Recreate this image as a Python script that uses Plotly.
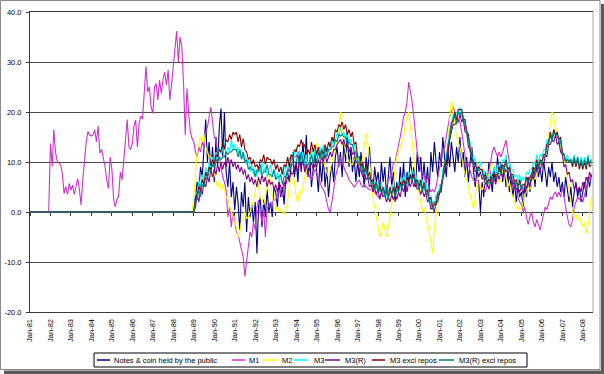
import pandas as pd
import plotly.graph_objects as go

# ---------------- data (annual growth, %) ----------------
start_month = "1981-01-01"
series_names = ["Notes & coin held by the public", "M1", "M2", "M3", "M3(R)",
                "M3 excl repos", "M3(R) excl repos"]
series_colors = ["#000080", "#CC33CC", "#FFFF00", "#00FFFF", "#800080", "#800000", "#008080"]

# months Jan-81 .. Dec-88 with no data plotted as zero (M1 starts Jan-82)
zeros_81_88 = [0.0] * 96
zeros_81 = [0.0] * 12

m1_82_88 = [
    13.7, 9.1, 16.5, 12.0, 10.2, 9.7, 9.4, 7.7, 3.7, 5.1, 3.5, 5.7,
    4.4, 5.4, 3.5, 5.0, 6.7, 4.5, 1.4, 6.5, 11.0, 14.0, 16.1, 15.4,
    15.2, 15.4, 16.4, 14.0, 17.2, 11.8, 12.5, 10.6, 9.1, 6.4, 4.7, 11.0,
    8.5, 2.5, 1.0, 2.5, 3.2, 8.0, 6.4, 10.4, 14.4, 18.5, 13.0, 12.5,
    13.7, 17.3, 18.4, 13.0, 17.7, 19.2, 18.6, 24.4, 29.1, 24.0, 25.0, 21.0,
    19.7, 25.0, 25.7, 22.4, 26.4, 23.7, 26.5, 28.0, 25.4, 28.4, 22.4, 25.5,
    29.7, 33.0, 36.2, 30.0, 35.0, 33.0, 26.0, 15.4, 24.7, 19.8, 16.0, 14.7,
]

notes_89_08 = [
    0, 3, 6, 4.4, 9, 7, 12, 18.5, 10, 14, 8, 13,
    6, 15, 9, 17, 20.7, 11, 20, 8, 5, 10, 3, 6,
    0.4, 5, 2, -3.6, 4, 1, 6, -4, 3, -1, 1.5, -2,
    2, -8.3, 1, 3, -3, 2.5, -1, 4.5, 0, 2, -1, 5,
    4, 1, 6, 3, 5, 1.5, 7, 8, 6, 9, 12, 7,
    10, 6, 12, 8, 14, 9, 15.4, 7, 11, 5, 9, 12,
    8, 4, 10, 6, 11, 5, 9, 3, 7, 10, 6, 11,
    13, 9, 12, 7, 14, 10, 16, 9, 13, 8, 11, 6,
    10, 7, 12, 9, 5, 11, 8, 13, 7, 4, 9, 6,
    8, 4, 10, 6, 9, 3, 7, 11, 5, 8, 2, 6,
    4, 9, 5, 10, 3, 8, 6, 11, 7, 9, 5, 12,
    8, 11, 6, 10, 5, 9, 4, 12, 8, 14, 10, 7,
    12, 9, 15, 10, 7, 12, 9, 14, 11, 8, 13, 10,
    15, 9, 12, 7, 11, 6, 10, 13, 8, 5, 9, 6,
    0, 6, 3, 8, 5, 10, 7, 4, 9, 6, 11, 8,
    10, 6, 9, 5, 8, 4, 7, 3, 6, 2, 5, 3,
    4, 1, 5, 3, 7, 4, 6, 9, 5, 10, 7, 9,
    6, 10, 8, 5, 9, 7, 10, 6, 8, 5, 7, 4,
    6, 3, 7, 4, 2, 5, 1, 4, 6, 3, 5, 2,
    4, 6, 3, 7, 5, 7.5,
]

m1_89_08 = [
    14, 12, 11, 13, 12, 14, 13, 16, 17, 19, 21, 18,
    15, 14.4, 12, 11, 9, 7, 6, 4.4, -1, 1, -3, 0,
    -2, -4, -4.5, -6, -7.6, -9, -12.9, -10, -7, -4, -5, -2,
    -3.6, 1, 2.4, 0, -2, 0.4, -5, 1, 1, 2, 1.5, 2.4,
    2.4, 3.5, 4.4, 3.5, 3, 5, 7, 8, 9, 10, 11.7, 11,
    11, 12, 11.7, 10, 11.7, 9, 7.7, 8, 7, 6.4, 7.5, 8.4,
    8, 7, 6.4, 5, 4.5, 3.7, 2, 0.5, 0, 2, 4.4, 7,
    8.4, 10, 11, 10, 9, 8, 7.5, 6.4, 6, 5.5, 5, 5.5,
    6, 6.4, 5.5, 5, 5.5, 5, 4.8, 4.4, 4.4, 4.4, 4, 3.5,
    3, 3.2, 3.5, 4, 4.4, 5, 6.4, 7, 8, 9.7, 10, 12,
    13.5, 15, 17, 19, 20, 22, 26, 24, 22, 19, 15, 12,
    10, 8, 7, 7.5, 6, 7, 5, 4, 4.5, 4, 5, 7,
    9, 11, 12, 13, 15, 17, 19, 20, 21, 20, 19, 18.5,
    18, 16, 14, 12, 9, 9.5, 8, 7, 6.4, 6, 6.4, 5.5,
    5, 4.4, 5, 4, 6, 8, 10, 12, 13, 12, 11, 12,
    11, 12, 13, 14.4, 12, 10, 7, 5, 5.5, 4, 3, 2,
    1.5, 0, 1, -1, -2.5, -1, 0, -2, -3, -1.5, -2.5, -3.6,
    -2, 0, 1, 0.5, 2, 3, 2.5, 3.5, 4, 3, 4, 3,
    5, 3, 0.4, -1, -2.5, -3, -1.5, 1, 2, 3, 2.5, 3,
    2, 3.5, 5, 6, 7, 6.5,
]

m2_89_08 = [
    3, 8, 12, 13.7, 15, 14, 15.7, 13, 12, 11, 11, 10,
    7.7, 6.4, 5, 6, 4.4, 5.5, 4, 3, 2.4, 1, 0, -1,
    -2.3, -3, -5, -4, -2, -1, 0, -1.3, -1, 0, 1, 2.4,
    4, 6.4, 5, 3, 2, 1.5, 3, 5, 7.7, 6, 3, 1,
    0.5, 1, 0, 0.7, 0, -0.5, 0.4, 2, 5, 7, 7.5, 6,
    3, 2, 4.4, 3.5, 5, 7, 8, 9, 10, 11, 12, 12.5,
    13.7, 13, 12, 11.5, 10, 9, 8, 7, 8.5, 10, 12, 13.5,
    14.4, 17, 20, 16, 14, 12, 11, 10, 9.7, 9.5, 10.5, 11,
    10, 9, 8.5, 11, 13, 15.7, 14, 9.7, 6, 3, 1, -1,
    -3, -4.9, -4, -2, -3.5, -5, -3, -1, 1, 5, 9, 11,
    12, 13, 14, 15, 17.7, 19, 20, 17, 14.4, 11, 7, 5,
    4, 2, 0, 1, -1, -2.3, -4, -6, -8.3, -3, 0, 2,
    4, 6, 7.7, 9, 10, 14, 18, 22.4, 20, 17, 15, 14,
    13, 11, 9, 7.5, 6.4, 5, 3.5, 2, 0.7, 3, 6, 7,
    5, 4.4, 5.5, 6.4, 6, 7.7, 9, 9.7, 8.5, 8, 7, 6,
    6, 8, 9, 7, 5, 6, 4, 3, 2, 1, 0.5, 1,
    0.5, 2, 3.5, 4, 5, 4.5, 6, 7, 6.5, 8, 9, 9.5,
    10, 11, 11, 13, 15, 17.5, 20, 19, 17, 16, 14, 13,
    12, 11, 9, 6, 4.4, 2, 0, -1, -0.5, -1.6, -1, -2,
    -3, -2, -4.3, -3, 0, 3,
]

m3_89_08 = [
    0, 4, 3, 6.5, 5, 7.5, 6, 9, 7.5, 10, 8.5, 11,
    9.5, 12, 10.5, 13, 11.5, 12.5, 14, 11.5, 13, 12, 14.5, 12.5,
    13.5, 12, 13, 11, 12.5, 10.5, 11.5, 9.5, 10.5, 8, 9.5, 7.5,
    8.5, 7, 9, 7.5, 10, 8, 9, 7, 8.5, 9.5, 7.5, 8.5,
    6.5, 8, 6, 7.5, 9, 7, 9.5, 8.5, 11, 9.5, 12, 11,
    13, 11, 12.5, 10, 12, 9.5, 11.5, 9, 11, 12.5, 10, 12.5,
    11, 12.5, 13, 11, 13.5, 11.5, 13, 12, 14, 13, 15, 14,
    16, 15, 17, 15.5, 16, 14.5, 15.5, 14, 14.5, 13, 13.5, 11.5,
    11.5, 9.5, 10, 8.5, 8.5, 7.5, 8, 6.5, 6.5, 5.5, 6, 4.5,
    5.5, 4, 6, 3.5, 5, 3, 4.5, 3.5, 5.5, 4, 5, 4,
    6, 4.5, 7, 5.5, 7.5, 6, 8, 6.5, 8.5, 7, 7.5, 5.5,
    6.5, 5, 6.5, 4.5, 6, 3.5, 4, 2, 2, 1.5, 3.5, 3,
    5.5, 5, 8.5, 9.5, 11.5, 12.5, 16.5, 17, 19.5, 19, 20, 19.5,
    21, 19, 19.5, 17, 17, 14.5, 14, 11.5, 11.5, 9.5, 10, 8.5,
    10, 8, 8.5, 7, 7.5, 6.5, 7.5, 7.5, 9, 7.5, 9.5, 9,
    9.5, 10.5, 10, 11.5, 9.5, 10, 8.5, 8.5, 7, 7.5, 6, 7.5,
    6, 7, 6.5, 8, 7.5, 8.5, 8.5, 10, 9.5, 11.5, 10, 11.5,
    11, 12.5, 12.5, 14.5, 14, 16, 14.5, 16.5, 15, 15.5, 13.5, 14,
    11.5, 11.5, 10, 11.5, 10, 10.5, 10, 11.5, 9.5, 11, 9.5, 11,
    9.5, 11, 9.5, 11.5, 10, 10.5,
]

m3r_89_08 = [
    0, 1, 3.5, 2, 4.5, 3.5, 6, 5, 7, 6, 8.5, 7,
    8.5, 7.5, 9.5, 8, 10, 8.5, 10, 9, 11, 9.5, 10.5, 9,
    10, 8.5, 9.5, 8, 9, 7.5, 8.5, 6.5, 7.5, 6, 7, 5.5,
    6.5, 5, 7, 5.5, 7.5, 6, 7, 5, 6.5, 5.5, 6, 4.5,
    5.5, 4, 6, 5, 4.5, 6, 5.5, 7, 6.5, 8, 7.5, 9,
    9.5, 8, 10, 9, 10.5, 8, 9.5, 7.5, 9, 10, 8.5, 9.5,
    9, 10.5, 9.5, 11, 10, 11.5, 10, 11, 12, 11, 12.5, 12.5,
    13.5, 14, 14.5, 13.5, 14.5, 13, 13.5, 12, 13, 11.5, 12, 10,
    10, 8, 8.5, 7, 7.5, 6.5, 7, 5, 5.5, 4, 5, 3.5,
    4.5, 2.5, 4, 3, 3.5, 2, 3, 2, 3.5, 2.5, 3.5, 2.5,
    4, 3, 5, 4, 5.5, 4, 6, 5, 6.5, 5, 6, 4.5,
    5, 3.5, 4.5, 3, 4, 2, 2.5, 0.5, 1, 0, 2, 2,
    4, 4, 7, 8, 10.5, 11.5, 14.5, 16, 17.5, 17.5, 18, 18,
    19.5, 18, 18.5, 16, 16, 13, 12.5, 10, 10, 8, 8.5, 7,
    8, 6.5, 7, 5.5, 6, 4.5, 6, 5.5, 7, 5.5, 7.5, 6.5,
    8, 7, 9, 8, 8.5, 6.5, 7.5, 5.5, 6, 4.5, 5, 4,
    5, 3.5, 5.5, 4.5, 6.5, 5, 7.5, 6.5, 8.5, 8, 9, 8,
    10, 9, 11.5, 11, 13.5, 13.5, 14.5, 14, 15.5, 13.5, 14, 12,
    11.5, 9, 9.5, 7.5, 8, 6, 6.5, 4.5, 5.5, 4, 5, 4,
    6, 5, 7, 6, 8, 7,
]

m3x_89_08 = [
    0, 3, 3.5, 5, 4.5, 6.5, 5.5, 8, 7, 9, 8.5, 10.5,
    9.5, 11.5, 11, 12.5, 12, 14, 12.5, 14.5, 14, 15.5, 14.5, 16,
    15.5, 16, 14, 15.5, 13, 14.7, 12.5, 12, 10.5, 11, 9.5, 10.5,
    9, 9.5, 8.5, 10.5, 10, 11.5, 9.5, 11, 10.5, 10.5, 9.5, 10.5,
    8.5, 9.5, 8, 9, 7.5, 9.5, 9, 11, 9, 11.5, 11, 12.5,
    12, 13.5, 13, 14.5, 13, 13.5, 11.5, 12.5, 11.5, 14, 12, 13.5,
    11.5, 13, 11, 12.5, 11.5, 13.5, 12, 14, 13, 15, 14, 16.5,
    16, 17.5, 17, 18, 16.5, 17.5, 15.5, 16.5, 15, 16, 13.5, 14,
    11, 11, 9, 10, 8, 9.5, 7, 8, 6, 6.5, 5, 6,
    4, 5.5, 4, 5, 3.5, 4.5, 3, 5, 3.5, 5, 4, 5.5,
    4.5, 6, 5, 6.5, 5.5, 7, 6, 7.5, 6.5, 7.5, 6, 6.5,
    5, 6.5, 4.5, 6, 4, 4.5, 2.5, 3, 1, 1.5, 1.5, 3.5,
    3.5, 5.5, 6.5, 9.5, 9.5, 12.5, 14.5, 17.5, 18.5, 20, 18, 20.5,
    20.5, 20.5, 18.5, 18.5, 16, 15.5, 12.5, 11.5, 9.5, 10, 8.5, 9,
    8.5, 8.5, 7, 7.5, 6, 6.5, 6, 7.5, 7, 7.5, 7.5, 9,
    8, 9.5, 9, 10.5, 8.5, 9, 7.5, 7.5, 6, 6.5, 5, 6.5,
    5, 5.5, 5.5, 7, 6.5, 7, 7.5, 9, 8.5, 10.5, 9, 10.5,
    10, 11.5, 11.5, 13.5, 14, 16, 14.5, 16.5, 15.5, 16, 14.5, 15,
    12, 11.5, 10, 10.5, 10, 10.5, 9, 10.5, 9, 10.5, 8.5, 10,
    8.5, 10, 8.5, 10.5, 9, 9.5,
]

m3rx_89_08 = [
    0, 2, 2.5, 4.5, 3, 5.5, 5, 7, 6.5, 8.5, 8, 9.5,
    9, 10.5, 10, 11, 10.5, 11, 11, 12, 11.5, 12, 12, 12.5,
    12.5, 12.5, 11, 12.5, 10.5, 12, 10, 10.5, 8.5, 9, 8.5, 8.5,
    7, 8.5, 8, 9.5, 7.5, 8, 8, 9.5, 7.5, 7.5, 7, 8.5,
    6.5, 7, 7, 7.5, 5.5, 7, 7, 8.5, 8, 9.5, 9.5, 10,
    10, 11.5, 9.5, 12, 10, 10, 9.5, 9.5, 10, 11.5, 9.5, 11.5,
    10, 12, 10.5, 12.5, 10.5, 13, 11, 12.5, 12.5, 13, 13, 14.5,
    14, 15.5, 15.2, 15.5, 15, 15, 13.5, 14, 13.5, 13.5, 12, 12,
    10, 10, 8.5, 9, 7.5, 9, 6.5, 7, 5.5, 6, 4.5, 6,
    4, 4.5, 4.5, 5, 3, 4.5, 2.5, 4, 4, 4.5, 3, 4.5,
    4, 5.5, 5, 5.5, 5.5, 6, 5.5, 7, 6.5, 7, 5.5, 6,
    4.5, 6, 4, 5.5, 3.5, 4, 2, 2, 0.5, 2, 2, 4,
    4, 6, 7, 10, 10.5, 13.5, 15, 18, 18, 19.5, 17.5, 20,
    19.5, 20, 18, 18, 15.5, 15, 12, 11.5, 9.5, 9.5, 8, 8.5,
    8, 8, 6.5, 7, 5.5, 6, 5.5, 7, 6.5, 7, 7, 8.5,
    7.5, 9, 8.5, 10, 8, 8.5, 7, 7, 5.5, 6, 4.5, 6,
    4.5, 5, 5, 6.5, 6, 6.5, 7, 8.5, 8, 10, 8.5, 10,
    9.5, 11, 11, 13, 13.5, 15.5, 14, 16, 15.5, 15.5, 14, 14.5,
    11.5, 11.5, 10, 10.5, 10, 10.5, 9.5, 11, 9.5, 11, 9, 10.5,
    9, 10.5, 9, 11, 9.5, 10.5,
]

series_values = [
    zeros_81_88 + notes_89_08,
    zeros_81 + m1_82_88 + m1_89_08,
    zeros_81_88 + m2_89_08,
    zeros_81_88 + m3_89_08,
    zeros_81_88 + m3r_89_08,
    zeros_81_88 + m3x_89_08,
    zeros_81_88 + m3rx_89_08,
]

y_tick_values = [-20, -10, 0, 10, 20, 30, 40]
y_tick_labels = ["-20.0", "-10.0", "0.0", "10.0", "20.0", "30.0", "40.0"]
x_range = ["1981-01-01", "2008-07-01"]

# ---------------- figure ----------------
W, H = 604, 374
ML, MR, MT, MB = 30, 11, 12, 62
PW, PH = W - ML - MR, H - MT - MB
FONT = "Arial, Liberation Sans, sans-serif"


def px(xp):
    return (xp - ML) / PW


def py(yp):
    return (H - MB - yp) / PH


fig = go.Figure()
for name, color, vals in zip(series_names, series_colors, series_values):
    dates = pd.date_range(start_month, periods=len(vals), freq="MS")
    fig.add_trace(go.Scatter(x=dates, y=vals, mode="lines", name=name,
                             line=dict(color=color, width=1.1), showlegend=False))

# dummy trace so the category axis drawn at zero is rendered
fig.add_trace(go.Scatter(x=[], y=[], xaxis="x2", yaxis="y", showlegend=False, hoverinfo="skip"))

fig.update_layout(
    width=W, height=H,
    margin=dict(l=ML, r=MR, t=MT, b=MB, autoexpand=False),
    paper_bgcolor="white", plot_bgcolor="white",
    font=dict(family=FONT, size=7.5, color="black"),
    showlegend=False,
    xaxis=dict(type="date", range=x_range, tick0="1981-01-01", dtick="M12",
               tickformat="%b-%y", tickangle=-90, showgrid=False, ticks="",
               showline=True, mirror=True, linecolor="#3a3a3a", linewidth=1,
               tickfont=dict(size=7.5), ticklabelstandoff=3, zeroline=False,
               automargin=False),
    xaxis2=dict(type="date", range=x_range, tick0="1981-01-01", dtick="M12",
                overlaying="x", anchor="free", position=py(212),
                showticklabels=False, ticks="outside", ticklen=3,
                tickcolor="#3a3a3a", showline=True, linecolor="#3a3a3a",
                linewidth=1, showgrid=False, zeroline=False, layer="below traces",
                automargin=False),
    yaxis=dict(range=[-20, 40], tickvals=y_tick_values, ticktext=y_tick_labels,
               showgrid=True, gridcolor="#4a4a4a", gridwidth=1, zeroline=False,
               showline=True, linecolor="#3a3a3a", linewidth=1,
               ticks="outside", ticklen=3, tickcolor="#3a3a3a",
               tickfont=dict(size=7.5), ticklabelstandoff=3, automargin=False),
)

shapes = []
# plot-area right border
shapes.append(dict(type="line", xref="paper", yref="paper", x0=1, x1=1, y0=0, y1=1,
                   line=dict(color="#a8a8a8", width=1)))
# chart frame and shadow
shapes.append(dict(type="rect", xref="paper", yref="paper",
                   x0=px(0.5), x1=px(600), y0=py(0.5), y1=py(369.5),
                   line=dict(color="#8a8a8a", width=1), layer="below"))
shapes.append(dict(type="rect", xref="paper", yref="paper",
                   x0=px(601), x1=px(604), y0=py(4), y1=py(374),
                   line=dict(width=0), fillcolor="#5a5a5a"))
shapes.append(dict(type="rect", xref="paper", yref="paper",
                   x0=px(4), x1=px(604), y0=py(370.5), y1=py(374),
                   line=dict(width=0), fillcolor="#5a5a5a"))
# legend box
shapes.append(dict(type="rect", xref="paper", yref="paper",
                   x0=px(94), x1=px(527), y0=py(353), y1=py(367),
                   line=dict(color="black", width=1), fillcolor="white"))

legend_line_x = [(97, 110), (232, 245), (263, 277), (294, 308), (325, 340), (372, 385), (439, 454)]
legend_text_x = [112, 247, 280, 312, 343, 388, 457]
legend_y = 360
annotations = []
for (x0, x1), tx, name, color in zip(legend_line_x, legend_text_x, series_names, series_colors):
    shapes.append(dict(type="line", xref="paper", yref="paper",
                       x0=px(x0), x1=px(x1), y0=py(legend_y), y1=py(legend_y),
                       line=dict(color=color, width=1.5)))
    annotations.append(dict(xref="paper", yref="paper", x=px(tx), y=py(legend_y),
                            xanchor="left", yanchor="middle", text=name, showarrow=False,
                            font=dict(size=7.5, family=FONT, color="black")))

fig.update_layout(shapes=shapes, annotations=annotations)
fig.write_html("out.html", config={"displayModeBar": False},
               post_script="document.body.style.margin='0px';document.body.style.overflow='hidden';")
